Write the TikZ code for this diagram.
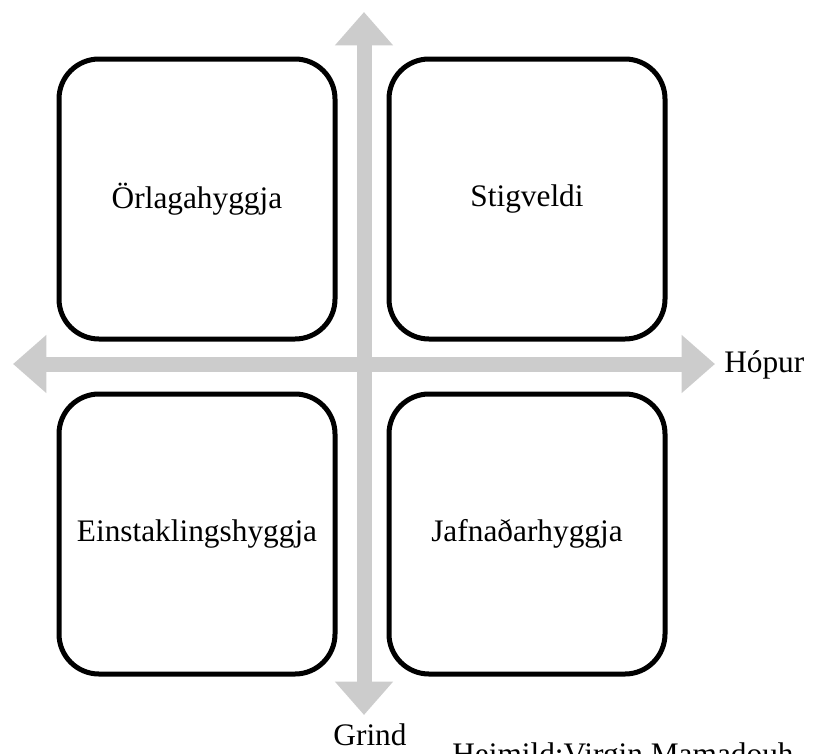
\documentclass[tikz,border=0pt]{standalone}
\usepackage{fontspec}
\setmainfont{Liberation Serif}
\usetikzlibrary{arrows.meta}

\definecolor{axisgray}{HTML}{CCCCCC}

\tikzset{
  quad/.style={draw, line width=3.75pt, rounded corners=30pt, fill=white,
    minimum width=207pt, minimum height=210pt, inner sep=0pt,
    font=\fontsize{23.5}{27}\selectfont},
  axis/.style={axisgray, line width=11.25pt,
    {Triangle[width=42pt,length=25pt]}-{Triangle[width=42pt,length=25pt]}},
  lbl/.style={inner sep=0pt, font=\fontsize{23.5}{27}\selectfont},
}

\begin{document}
\begin{tikzpicture}[x=0.75pt,y=-0.75pt]
	\useasboundingbox (0,0) rectangle (813,753);

	% axes
	\coordinate (up)    at (364, 12);
	\coordinate (down)  at (364,715);
	\coordinate (left)  at ( 13,364);
	\coordinate (right) at (715,364);
	\draw[axis] (down) -- (up);
	\draw[axis] (left) -- (right);

	% quadrants
	\node[quad] (fate)  at (197,199) {Örlagahyggja};
	\node[quad] (hier)  at (527,199) {Stigveldi};
	\node[quad] (indiv) at (197,534) {Einstaklingshyggja};
	\node[quad] (egal)  at (527,534) {Jafnaðarhyggja};

	% labels
	\node[lbl, anchor=west] (group) at (724,365) {Hópur};
	\node[lbl, anchor=base] (grid)  at (370,745) {Grind};
	\node[lbl, anchor=base west] (src) at (452,764) {Heimild:Virgin Mamadouh};
\end{tikzpicture}
\end{document}
